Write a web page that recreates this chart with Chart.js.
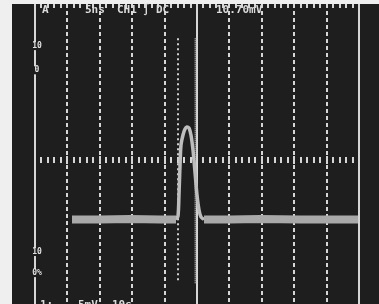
<!DOCTYPE html>
<html><head><meta charset="utf-8">
<script src="https://cdn.jsdelivr.net/npm/chart.js@4/dist/chart.umd.min.js"></script>
<style>html,body{margin:0;padding:0;background:#efefef;overflow:hidden}canvas{display:block}</style>
</head><body>
<canvas id="c" width="379" height="304"></canvas>
<script>
// time in ns (5 ns/div, 10 div), voltage in mV (5 mV/div)
const baseLeftT  = [5.71, 10.03, 14.66, 19.29, 21.76];
const baseLeftV  = [-7.63, -7.63, -7.56, -7.63, -7.63];
const pulseT = [21.76, 22.07, 22.22, 22.38, 22.53, 22.84, 23.15, 23.46, 23.77, 24.07, 24.38, 24.69, 25.0, 25.31, 25.62, 26.08];
const pulseV = [-7.63, -7.18, -4.49, -0.64, 1.92, 3.21, 3.97, 4.23, 4.10, 3.21, 1.28, -1.54, -4.49, -6.41, -7.31, -7.63];
const baseRightT = [26.08, 30.09, 34.72, 40.9, 49.85];
const baseRightV = [-7.63, -7.63, -7.56, -7.63, -7.63];
const cursorT = [22.07, 24.77];
const cursorV = [15.6, -15.8];
const topReadout = [["A", 42], ["5ns", 85], ["CH1", 117], ["\u222B", 143], ["DC", 156], ["10.70mV", 216]];
const bottomReadout = [["1:", 40], ["5mV", 78], ["10s", 112]];
const markerLabels = [["10", 14.6], ["0", 11.5], ["10", -11.8], ["0%", -14.5]];

const pts = (t, v) => t.map((x, i) => ({x, y: v[i]}));

const bgPlugin = {
  id: 'scopebg',
  beforeDraw(chart) {
    const c = chart.ctx;
    c.save();
    c.fillStyle = '#efefef';
    c.fillRect(0, 0, chart.width, chart.height);
    c.fillStyle = '#1e1e1e';
    c.fillRect(12, 4, chart.width - 12, chart.height - 4);
    c.restore();
  },
  beforeDatasetsDraw(chart) {
    const c = chart.ctx, xs = chart.scales.x, ys = chart.scales.y, a = chart.chartArea;
    c.save();
    c.fillStyle = '#d6d6d6';
    [0, 25, 50].forEach(t => {
      const px = Math.round(xs.getPixelForValue(t));
      c.fillRect(px - 1, a.top, 2, a.bottom - a.top);
    });
    const yc = ys.getPixelForValue(0);
    for (let t = 0; t <= 50; t += 1) {
      const px = Math.round(xs.getPixelForValue(t));
      if (t % 5 === 0) { c.fillRect(px - 1, yc - 4, 2, 8); continue; }
      c.fillRect(px - 1, yc - 3, 2, 6);
      c.fillRect(px - 1, a.top, 2, 4);
    }
    c.restore();
  },
  afterDraw(chart) {
    const c = chart.ctx, ys = chart.scales.y, xs = chart.scales.x;
    c.save();
    c.fillStyle = '#dcdcdc';
    c.textBaseline = 'alphabetic';
    c.font = 'bold 11px "DejaVu Sans Mono"';
    topReadout.forEach(([s, x]) => c.fillText(s, x, 13));
    bottomReadout.forEach(([s, x]) => c.fillText(s, x, 308));
    c.font = 'bold 8px "DejaVu Sans Mono"';
    c.textAlign = 'center';
    c.textBaseline = 'middle';
    const lx = xs.getPixelForValue(0) + 2;
    markerLabels.forEach(([s, v]) => {
      const py = ys.getPixelForValue(v);
      c.fillStyle = '#1e1e1e';
      c.fillRect(lx - 5, py - 4, 10, 8);
      c.fillStyle = '#e0e0e0';
      c.fillText(s, lx, py);
    });
    c.restore();
  }
};

new Chart(document.getElementById('c'), {
  type: 'line',
  data: {
    datasets: [
      {data: pts(baseLeftT, baseLeftV), borderColor: '#a9a9a9', borderWidth: 8, pointRadius: 0, tension: 0},
      {data: pts(baseRightT, baseRightV), borderColor: '#a9a9a9', borderWidth: 8, pointRadius: 0, tension: 0},
      {data: pts(baseLeftT, baseLeftV), borderColor: '#d8d8d8', borderWidth: 3, pointRadius: 0, tension: 0},
      {data: pts(baseRightT, baseRightV), borderColor: '#d8d8d8', borderWidth: 3, pointRadius: 0, tension: 0},
      {data: pts(pulseT, pulseV), borderColor: '#bdbdbd', borderWidth: 3.5, pointRadius: 0, tension: 0.25},
      {data: pts(pulseT, pulseV), borderColor: '#e6e6e6', borderWidth: 1, pointRadius: 0, tension: 0.25},
      {data: pts([cursorT[0], cursorT[0]], cursorV), borderColor: '#d0d0d0', borderWidth: 2, borderDash: [2, 3], pointRadius: 0},
      {data: pts([cursorT[1], cursorT[1]], cursorV), borderColor: '#bcbcbc', borderWidth: 2, borderDash: [1, 1], pointRadius: 0}
    ]
  },
  options: {
    responsive: false,
    animation: false,
    devicePixelRatio: 1,
    layout: {padding: {left: 35, right: 20, top: 4, bottom: 0}},
    plugins: {legend: {display: false}, tooltip: {enabled: false}},
    scales: {
      x: {
        type: 'linear', min: 0, max: 50,
        ticks: {display: false, stepSize: 5},
        grid: {color: '#d6d6d6', lineWidth: 2, drawTicks: false},
        border: {display: false, dash: [4, 3]}
      },
      y: {
        type: 'linear', min: -18.46, max: 20,
        ticks: {display: false},
        grid: {display: false, drawTicks: false},
        border: {display: false}
      }
    }
  },
  plugins: [bgPlugin]
});
</script>
</body></html>
